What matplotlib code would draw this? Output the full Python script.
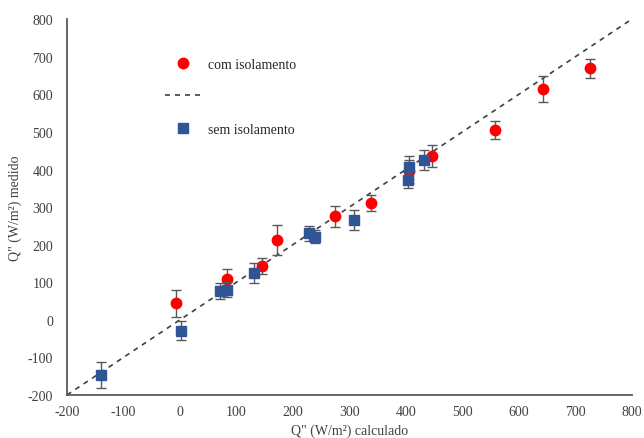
import matplotlib.pyplot as plt
from matplotlib.lines import Line2D

# dados
com_x = [-7, 83, 145, 172, 275, 339, 406, 447, 558, 643, 726]
com_y = [44, 108, 144, 213, 275, 311, 395, 436, 506, 614, 669]
com_err = [36, 27, 21, 40, 28, 21, 30, 30, 24, 34, 25]

sem_x = [-139, 2, 71, 84, 132, 228, 240, 308, 404, 405, 432]
sem_y = [-147, -29, 77, 80, 124, 230, 221, 266, 373, 406, 425]
sem_err = [34, 25, 22, 20, 26, 19, 17, 27, 21, 30, 27]

ref = [-200, 800]

plt.rcParams['font.family'] = ['Liberation Serif', 'DejaVu Serif']
plt.rcParams['font.size'] = 10
plt.rcParams['axes.unicode_minus'] = False

fig = plt.figure(figsize=(6.44, 4.39), dpi=100)
ax = fig.add_axes([0.104, 0.098, 0.877, 0.856])

ax.plot(ref, ref, linestyle=(0, (3, 3)), color='#404040', linewidth=1.2, zorder=1)

ax.errorbar(sem_x, sem_y, yerr=sem_err, fmt='s', color='#2F5597', markersize=7,
            ecolor='#595959', elinewidth=1, capsize=3.5, capthick=1, zorder=3)
ax.errorbar(com_x, com_y, yerr=com_err, fmt='o', color='#FF0000', markersize=7.5,
            ecolor='#595959', elinewidth=1, capsize=3.5, capthick=1, zorder=2)

ax.set_xlim(-200, 800)
ax.set_ylim(-200, 800)
ax.set_xticks(range(-200, 801, 100))
ax.set_yticks(range(-200, 801, 100))
ax.tick_params(length=0, colors='#404040', labelsize=10)
ax.tick_params(axis='y', pad=10)
ax.tick_params(axis='x', pad=7)

for s in ['top', 'right']:
    ax.spines[s].set_visible(False)
for s in ['left', 'bottom']:
    ax.spines[s].set_color('#595959')
    ax.spines[s].set_linewidth(1.3)

ax.set_xlabel('Q" (W/m²) calculado', color='#404040', labelpad=4)
ax.set_ylabel('Q" (W/m²) medido', color='#404040', labelpad=4)

handles = [
    Line2D([], [], marker='o', color='#FF0000', linestyle='none', markersize=7.5),
    Line2D([], [], linestyle=(0, (3, 3)), color='#404040', linewidth=1.2),
    Line2D([], [], marker='s', color='#2F5597', linestyle='none', markersize=7),
]
ax.legend(handles, ['com isolamento', '', 'sem isolamento'], loc='upper left',
          bbox_to_anchor=(0.173, 0.897), frameon=False, borderaxespad=0, borderpad=0,
          handlelength=2.6, handletextpad=0.5, labelspacing=1.4, labelcolor='#262626')

fig.savefig('out.png', dpi=100)
